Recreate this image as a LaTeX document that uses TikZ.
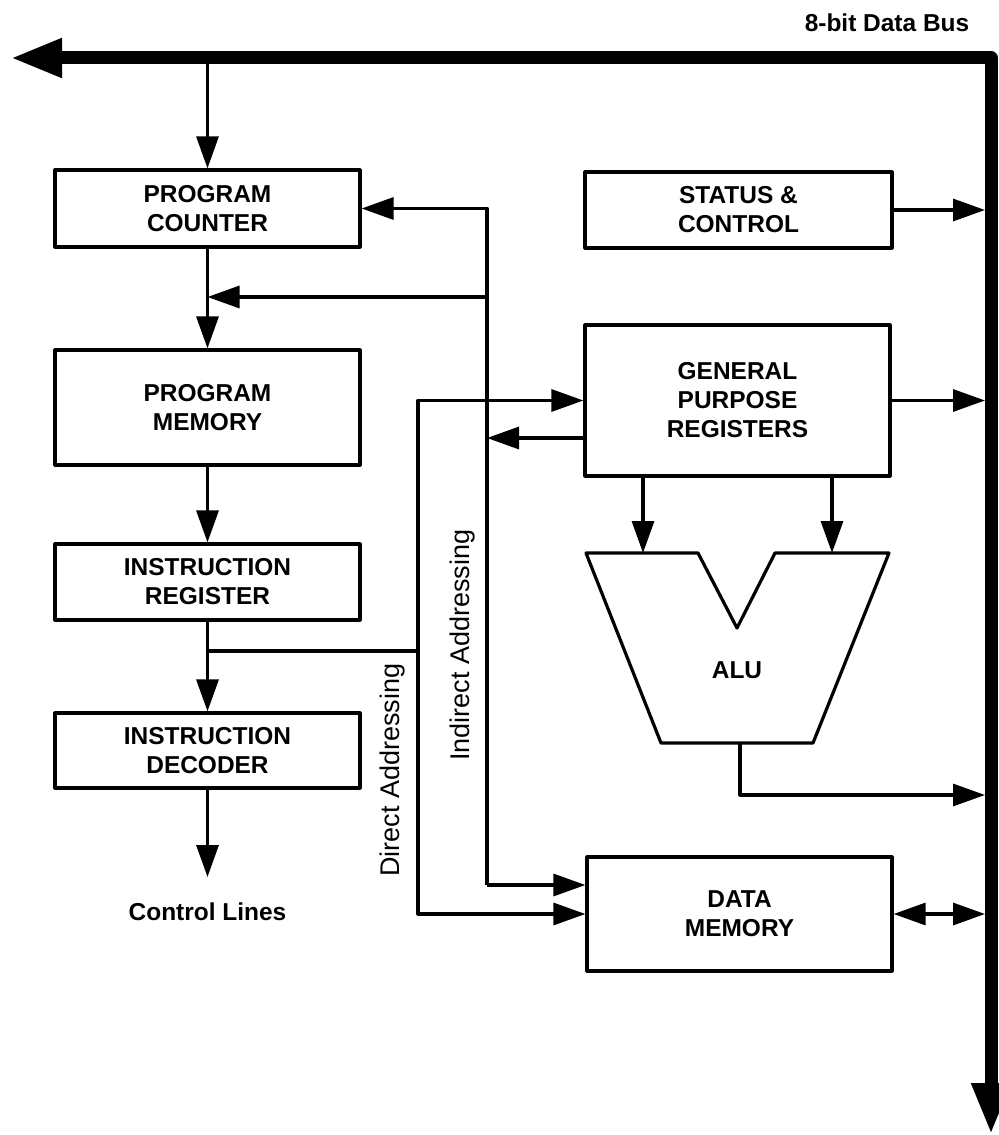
\documentclass[tikz,border=0pt]{standalone}
\usepackage{fontspec}
\setmainfont{Liberation Sans}
\usetikzlibrary{arrows.meta}

\tikzset{
  wire/.style={line width=.8mm, line cap=butt},
  arr/.style={wire, -{Triangle[length=8mm,width=5.5mm]}},
  darr/.style={wire, {Triangle[length=8mm,width=5.5mm]}-{Triangle[length=8mm,width=5.5mm]}},
  busline/.style={line width=3.25mm, line join=round,
    {Triangle[length=13mm,width=9mm]}-{Triangle[length=13mm,width=9mm]}},
  blk/.style={draw, line width=.8mm, minimum width=76.25mm, align=center, inner sep=0pt,
    font=\bfseries\fontsize{17.4}{20.6}\selectfont},
  lbl/.style={font=\fontsize{19.2}{22}\selectfont, inner sep=0pt},
}

\begin{document}
\begin{tikzpicture}[x=.25mm,y=-.25mm,line join=round]
	\useasboundingbox (0,0) rectangle (998,1135);
	% bus edges and wire corners
	\path
	(0,64) coordinate (bt)
	(985,0) coordinate (br)
	(487,885) coordinate (ind)
	(487,297) coordinate (indpm)
	(585,438) coordinate (gout)
	(418,651) coordinate (dir)
	(207.5,877) coordinate (ctltip)
	(643,553) coordinate (ain1)
	(832,553) coordinate (ain2)
	(740,743) coordinate (aout)
	(985,795) coordinate (abus)
	;
	% 8-bit data bus
	\draw [busline] (10,58) -- (991,58) -- (991,1135);
	\node [font=\bfseries\fontsize{17.4}{20.6}\selectfont, inner sep=0pt] (buslbl) at (887,23) {8-bit Data Bus};
	% blocks
	\node [blk, minimum height=19.25mm] (pc) at (207.5,208.5) {PROGRAM\\COUNTER};
	\node [blk, minimum height=28.75mm] (pm) at (207.5,407.5) {PROGRAM\\MEMORY};
	\node [blk, minimum height=19mm] (ir) at (207.5,582) {INSTRUCTION\\REGISTER};
	\node [blk, minimum height=18.75mm] (id) at (207.5,750.5) {INSTRUCTION\\DECODER};
	\node [blk, minimum height=19mm, minimum width=76.75mm] (sc) at (738.5,210) {STATUS \&\\CONTROL};
	\node [blk, minimum height=37.75mm] (gpr) at (737.5,400.5) {GENERAL\\PURPOSE\\REGISTERS};
	\node [blk, minimum height=28.5mm] (dm) at (739.5,914) {DATA\\MEMORY};
	% ALU
	\draw [wire] (586,553) -- (698,553) -- (737,628) -- (775,553) -- (889,553) -- (813,743) -- (661,743) -- cycle;
	\node [font=\bfseries\fontsize{17.4}{20.6}\selectfont] (alu) at (737,670) {ALU};
	\node [font=\bfseries\fontsize{17.4}{20.6}\selectfont, inner sep=0pt] (ctl) at (207.5,912) {Control Lines};
	\node [lbl, rotate=90] (dlbl) at (393,770) {Direct Addressing};
	\node [lbl, rotate=90] (ilbl) at (463,645) {Indirect Addressing};
	% program path
	\draw [arr] (pc.north |- bt) -- (pc.north);
	\draw [arr] (pc) -- (pm);
	\draw [arr] (pm) -- (ir);
	\draw [arr] (ir) -- (id);
	\draw [arr] (id) -- (ctltip);
	% indirect addressing
	\draw [arr] (ind) |- (pc.east);
	\draw [arr] (indpm) -- (indpm -| pc.south);
	\draw [arr] (gout) -- (gout -| ind);
	\draw [arr] (ind) -- (ind -| dm.west);
	% direct addressing
	\draw [wire] (ir.south |- dir) -- (dir);
	\draw [arr] (dir) |- (gpr.west);
	\draw [arr] (dir) |- (dm.west);
	% to the ALU and the bus
	\draw [arr] (ain1 |- gpr.south) -- (ain1);
	\draw [arr] (ain2 |- gpr.south) -- (ain2);
	\draw [arr] (aout) |- (abus);
	\draw [arr] (sc.east) -- (sc.east -| br);
	\draw [arr] (gpr.east) -- (gpr.east -| br);
	\draw [darr] (dm.east) -- (dm.east -| br);
\end{tikzpicture}
\end{document}
